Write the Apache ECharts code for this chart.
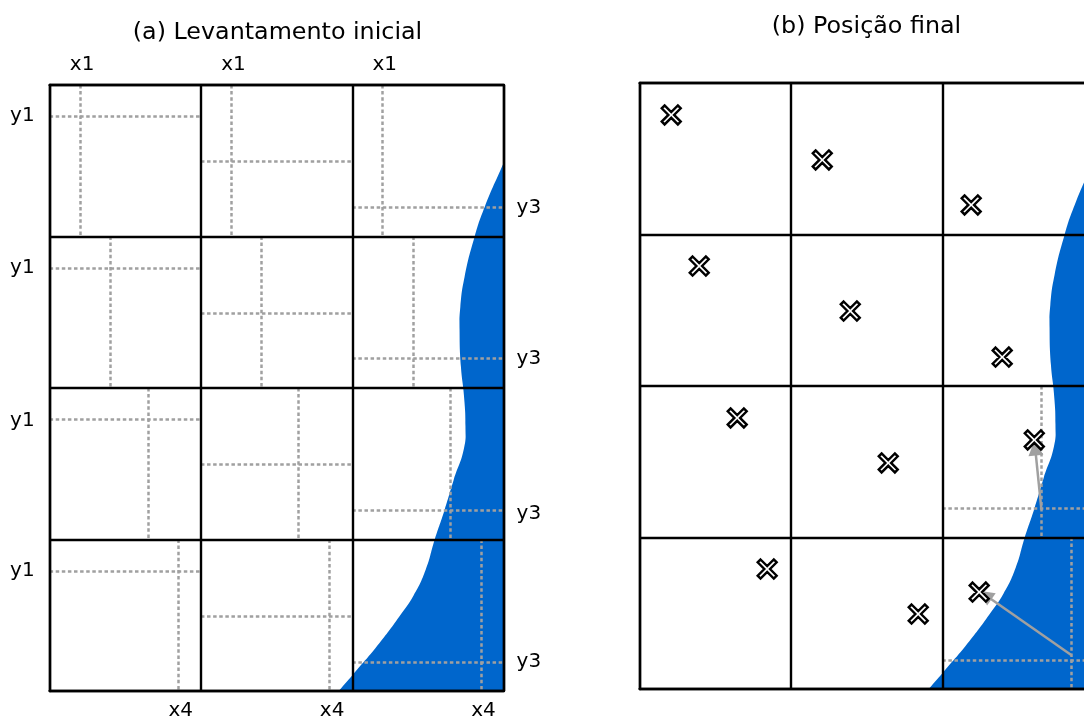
<!DOCTYPE html>
<html><head><meta charset="utf-8">
<script src="https://cdn.jsdelivr.net/npm/echarts@6/dist/echarts.min.js"></script>
<style>html,body{margin:0;padding:0;background:#fff;overflow:hidden}#c{width:1084px;height:716px}</style>
</head><body><div id="c"></div>
<script>
// Plot units: one grid cell = 100 units; y counted downward from the top.
const boundaryX = [308,300,287.5,280.8,274.2,271.4,270.9,271.8,273.8,274.8,273.8,267,261,254.4,248.5,240.5,231,218,200.2,191,180];
const boundaryY = [33,51.5,80.5,100.3,126.7,146.5,161.7,186,205,225,240,260.7,280.5,300.3,320,337,351,368.3,389.4,400,412.5];
const outerCornersX = [340,340];
const outerCornersY = [412.5,33];
const verticalX = [[20,120,219.5],[40,140,240],[65,164.5,265],[85,184.5,285]];
const horizontalY = [[20.5,50,80.5],[120.8,150.5,180.5],[220.5,250,280.5],[320.8,350.5,380.8]];
const finalVerticals = [[265.4,200,300],[285.2,300,400]];
const finalHorizontals = [[280.5,200,300],[380.8,200,300]];
const crossX = [20.9,120.7,219.1,39.4,139.2,239.6,64.5,164.3,260.8,84.3,184.1,224.4];
const crossY = [21.1,50.8,80.5,120.8,150.5,180.9,221.1,250.8,235.6,320.8,350.5,336];
const arrowStart = [[265.4,280.5],[285.2,377.6]];
const arrowEnd = [[261.4,241],[228.4,338]];
const topLabels = ['x1','x1','x1'], topAt = [21.5,121.5,221.5];
const bottomLabels = ['x4','x4','x4'], bottomAt = [86.7,186.7,286.7];
const leftLabels = ['y1','y1','y1','y1'], leftAt = [20.5,120.5,221.5,320.5];
const rightLabels = ['y3','y3','y3','y3'], rightAt = [81,181,283,381];
const titles = ['(a) Levantamento inicial','(b) Posição final'];

const FONT='"DejaVu Sans"', BLACK='#000', GRAY='#a0a0a0', BLUE='#0066cc';
const chart = echarts.init(document.getElementById('c'),null,{renderer:'canvas'});
const grids=[{left:49.6,top:85,width:454,height:606,outerBoundsMode:'none'},{left:639.6,top:83,width:454,height:606,outerBoundsMode:'none'}];
function xAx(g,pos,split,labels,at){return {gridIndex:g,type:'value',position:pos,min:0,max:300,interval:100,z:3,
  axisLine:{show:true,onZero:false,lineStyle:{color:BLACK,width:2.4}},axisTick:{show:false},
  splitLine:{show:split,lineStyle:{color:BLACK,width:2.4}},
  axisLabel:labels?{show:true,customValues:at,margin:10,fontFamily:FONT,fontSize:20,color:BLACK,
    formatter:(v)=>labels[at.indexOf(v)]||''}:{show:false}};}
function yAx(g,pos,split,labels,at){return {gridIndex:g,type:'value',position:pos,inverse:true,min:0,max:400,interval:100,z:3,
  axisLine:{show:true,onZero:false,lineStyle:{color:BLACK,width:2.4}},axisTick:{show:false},
  splitLine:{show:split,lineStyle:{color:BLACK,width:2.4}},
  axisLabel:labels?{show:true,customValues:at,margin:pos==='left'?15:13,fontFamily:FONT,fontSize:20,color:BLACK,
    formatter:(v)=>labels[at.indexOf(v)]||''}:{show:false}};}
const area=(i)=>({type:'custom',xAxisIndex:i,yAxisIndex:i,z:1,silent:true,clip:true,
  data:boundaryX.map((x,k)=>[x,boundaryY[k]]),encode:{x:0,y:1},
  renderItem:(p,api)=>{ if(p.dataIndex!==0) return null;
    const pts=boundaryX.map((x,k)=>api.coord([x,boundaryY[k]]));
    const outer=outerCornersX.map((x,k)=>api.coord([x,outerCornersY[k]]));
    return {type:'polygon',shape:{points:pts.concat(outer),smooth:0.5},style:{fill:BLUE,stroke:null}};}});
const dotted=(i,segs)=>({type:'lines',coordinateSystem:'cartesian2d',xAxisIndex:i,yAxisIndex:i,z:2,silent:true,
  lineStyle:{color:GRAY,width:2.5,type:[3.5,2.6],opacity:1},data:segs.map(c=>({coords:c}))});
const leftSegs=[];
verticalX.forEach((row,r)=>row.forEach(x=>leftSegs.push([[x,r*100],[x,(r+1)*100]])));
horizontalY.forEach(col=>col.forEach((y,c)=>leftSegs.push([[c*100,y],[(c+1)*100,y]])));
const rightSegs=[];
finalVerticals.forEach(v=>rightSegs.push([[v[0],v[1]],[v[0],v[2]]]));
finalHorizontals.forEach(h=>rightSegs.push([[h[1],h[0]],[h[2],h[0]]]));
const xPath='path://M1.5 0L5 3.5L8.5 0L10 1.5L6.5 5L10 8.5L8.5 10L5 6.5L1.5 10L0 8.5L3.5 5L0 1.5Z';
chart.setOption({
  animation:false,
  title:[{text:titles[0],left:272.5,top:16,textAlign:'center',textStyle:{fontFamily:FONT,fontSize:23.8,fontWeight:'normal',color:BLACK}},
         {text:titles[1],left:861.5,top:10,textAlign:'center',textStyle:{fontFamily:FONT,fontSize:23.8,fontWeight:'normal',color:BLACK}}],
  grid:grids,
  xAxis:[xAx(0,'bottom',true,bottomLabels,bottomAt),xAx(0,'top',false,topLabels,topAt),xAx(1,'bottom',true),xAx(1,'top',false)],
  yAxis:[yAx(0,'left',true,leftLabels,leftAt),yAx(0,'right',false,rightLabels,rightAt),yAx(1,'left',true),yAx(1,'right',false)],
  series:[
    area(0),dotted(0,leftSegs),
    area(2),dotted(2,rightSegs),
    {type:'lines',coordinateSystem:'cartesian2d',xAxisIndex:2,yAxisIndex:2,z:4,silent:true,
      symbol:['none','triangle'],symbolSize:15,lineStyle:{color:GRAY,width:2.5,opacity:1,type:'solid'},
      data:arrowStart.map((s,k)=>({coords:[s,arrowEnd[k]]}))},
    {type:'scatter',xAxisIndex:2,yAxisIndex:2,z:5,silent:true,symbol:xPath,symbolSize:19,
      itemStyle:{color:'#fff',borderColor:BLACK,borderWidth:2.4,opacity:1},
      data:crossX.map((x,k)=>[x,crossY[k]])}
  ]
});
</script></body></html>
